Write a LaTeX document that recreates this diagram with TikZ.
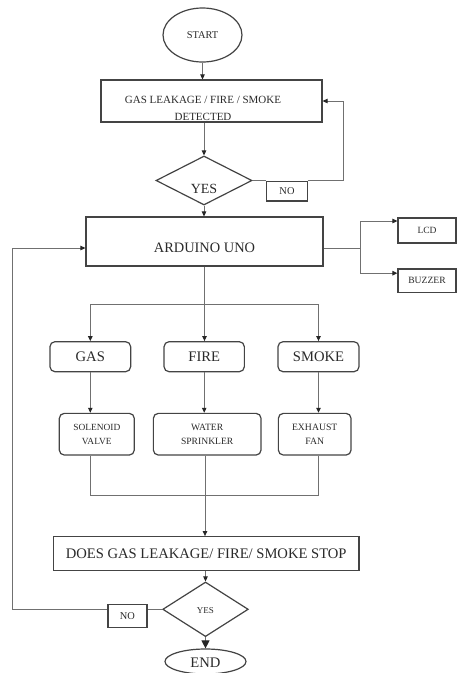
\documentclass[tikz,border=0pt]{standalone}
\usepackage{fontspec}
\setmainfont{Liberation Serif}
\usetikzlibrary{shapes.geometric,arrows.meta}
\definecolor{ln}{HTML}{707070}
\definecolor{bd}{HTML}{444444}
\definecolor{tx}{HTML}{2A2A2A}
\newcommand\fsz[1]{\fontsize{#1}{#1}\selectfont}
\tikzset{
  boxst/.style={draw=bd, line width=1.2pt, rectangle, inner sep=0pt, text=tx, fill=white},
  rbox/.style={boxst, rounded corners=5pt},
  diast/.style={draw=bd, line width=1.2pt, diamond, inner sep=0pt},
  ellst/.style={draw=bd, line width=1.2pt, ellipse, inner sep=0pt, text=tx},
  conn/.style={draw=ln, line width=1pt},
  arr/.style={conn, -{Triangle[length=5pt,width=4.5pt,color=black!85]}},
  bigarr/.style={conn, -{Triangle[length=8pt,width=8pt,color=black!85]}},
  lbl/.style={text=tx, inner sep=0pt, align=center},
}
\begin{document}
\begin{tikzpicture}[x=1pt,y=-1pt]
\useasboundingbox (0,0) rectangle (457,673);
\fill[white] (0,0) rectangle (457,673);

% nodes
\node[ellst, minimum width=79pt, minimum height=54pt] (start) at (202.5,35) {\fsz{10.4}START};
\node[boxst, minimum width=221pt, minimum height=42pt] (det) at (211.5,101) {};
\node[lbl, font=\fontsize{11}{17.5}\selectfont] (tdet) at (203,108.3) {GAS LEAKAGE / FIRE / SMOKE\\DETECTED};
\node[diast, minimum width=96pt, minimum height=49pt] (dia1) at (204,180.5) {};
\node[lbl] (tyes1) at (204,189) {\fsz{14}YES};
\node[boxst, minimum width=41pt, minimum height=19.5pt] (no1) at (287,191.2) {\fsz{10.4}NO};

\node[boxst, minimum width=237pt, minimum height=49pt] (ard) at (204.5,241.5) {};
\node[lbl] (tard) at (204.5,248) {\fsz{14.4}ARDUINO UNO};
\node[boxst, minimum width=58pt, minimum height=25pt] (lcd) at (427,230.5) {\fsz{9.5}LCD};
\node[boxst, minimum width=58pt, minimum height=23.5pt] (buz) at (427,280.7) {\fsz{9.6}BUZZER};

\node[rbox, minimum width=80.7pt, minimum height=30pt] (gas) at (90.3,356.7) {\fsz{14.6}GAS};
\node[rbox, minimum width=80.3pt, minimum height=30pt] (fire) at (204.2,356.7) {\fsz{14.6}FIRE};
\node[rbox, minimum width=81pt, minimum height=30pt] (smoke) at (318.5,356.7) {\fsz{14.6}SMOKE};

\node[rbox, minimum width=75pt, minimum height=41.7pt, align=center, font=\fontsize{9.4}{14}\selectfont] (sol) at (96.8,434.2) {SOLENOID\\VALVE};
\node[rbox, minimum width=107.7pt, minimum height=41.7pt, align=center, font=\fontsize{9.6}{14}\selectfont] (wat) at (207.2,434.2) {WATER\\SPRINKLER};
\node[rbox, minimum width=72.7pt, minimum height=41.7pt, align=center, font=\fontsize{9.7}{14}\selectfont] (exh) at (314.7,434.2) {EXHAUST\\FAN};

\node[boxst, minimum width=305.7pt, minimum height=34pt] (does) at (206.2,553.7) {\fsz{14.6}DOES GAS LEAKAGE/ FIRE/ SMOKE STOP};
\node[diast, minimum width=85.6pt, minimum height=54.6pt] (dia2) at (205.5,609.3) {};
\node[lbl] (tyes2) at (205.5,611) {\fsz{9}YES};
\node[boxst, minimum width=39pt, minimum height=23.4pt] (no2) at (127.5,616) {\fsz{10.4}NO};
\node[ellst, minimum width=81pt, minimum height=25pt] (end) at (205.5,661.5) {};
\node[lbl] (tend) at (205.5,663) {\fsz{14.6}END};

% coordinates
\coordinate (c1) at (343,180.5);
\coordinate (br) at (360,248);
\coordinate (bus1) at (204.5,304);
\coordinate (bus2) at (205,495.7);
\coordinate (c3) at (12.7,609.3);

% connectors
\draw[arr] (start.south) -- (start.south |- det.north);
\draw[arr] (det.south -| dia1.north) -- (dia1.north);
\draw[conn] (dia1.east) -- (dia1.east -| no1.west);
\draw[arr] (dia1.east -| no1.east) -- (c1) |- (det.east);
\draw[arr] (dia1.south) -- (dia1.south |- ard.north);

\draw[conn] ([yshift=-6.5pt]ard.east) -- (br);
\draw[arr] (br) |- ([yshift=9.5pt]lcd.west);
\draw[arr] (br) |- ([yshift=7.5pt]buz.west);

\draw[conn] (ard.south) -- (bus1);
\draw[arr] (bus1) -| (gas.north);
\draw[arr] (bus1) -- (bus1 |- fire.north);
\draw[arr] (bus1) -| (smoke.north);

\draw[arr] (gas.south) -- (gas.south |- sol.north);
\draw[arr] (fire.south) -- (fire.south |- wat.north);
\draw[arr] (smoke.south) -- (smoke.south |- exh.north);

\draw[conn] (sol.south -| gas.south) |- (bus2) -| (exh.south -| smoke.south);
\draw[arr] (wat.south -| bus2) -- (bus2 |- does.north);

\draw[arr] (does.south -| dia2.north) -- (dia2.north);
\draw[conn] (dia2.west) -- (dia2.west -| no2.east);
\draw[arr] (dia2.west -| no2.west) -- (c3) |- ([yshift=-6.5pt]ard.west);
\draw[bigarr] (dia2.south) -- (end.north);
\end{tikzpicture}
\end{document}
